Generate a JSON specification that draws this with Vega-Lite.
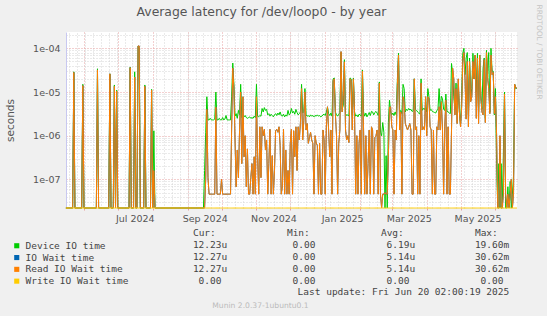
{
"$schema": "https://vega.github.io/schema/vega-lite/v6.json",
"autosize": "none",
"width": 451,
"height": 176,
"padding": {"left": 66, "top": 32, "right": 30, "bottom": 108},
"background": "#f0f0f0",
"config": {
  "view": {"fill": "#ffffff", "stroke": null},
  "font": "DejaVu Sans",
  "axis": {"labelFont": "DejaVu Sans", "titleFont": "DejaVu Sans"}
},
"title": {"text": "Average latency for /dev/loop0 - by year", "font": "DejaVu Sans", "fontSize": 12.4, "fontWeight": "normal", "color": "#555555", "anchor": "middle", "frame": "group", "dx": -30, "dy": 18, "offset": 4},
"datasets": {
"series": [
{"t":"2024-05-16","g":0,"w":0,"r":0,"z":0},
{"t":"2024-05-17","g":0,"w":0,"r":0,"z":0},
{"t":"2024-05-18","g":0,"w":0,"r":0,"z":0},
{"t":"2024-05-19","g":0,"w":0,"r":0,"z":0},
{"t":"2024-05-20","g":0,"w":0,"r":0,"z":0},
{"t":"2024-05-21","g":0,"w":0,"r":0,"z":0},
{"t":"2024-05-22","g":0,"w":0,"r":0,"z":0},
{"t":"2024-05-23","g":2.9e-5,"w":2.8e-5,"r":2.8e-5,"z":0},
{"t":"2024-05-24","g":0,"w":0,"r":0,"z":0},
{"t":"2024-05-25","g":0,"w":0,"r":0,"z":0},
{"t":"2024-05-26","g":0,"w":0,"r":0,"z":0},
{"t":"2024-05-27","g":0,"w":0,"r":0,"z":0},
{"t":"2024-05-28","g":0,"w":0,"r":0,"z":0},
{"t":"2024-05-29","g":0,"w":0,"r":0,"z":0},
{"t":"2024-05-30","g":0,"w":0,"r":0,"z":0},
{"t":"2024-05-31","g":1.5e-5,"w":1.4e-5,"r":1.4e-5,"z":0},
{"t":"2024-06-01","g":0,"w":0,"r":0,"z":0},
{"t":"2024-06-02","g":0,"w":0,"r":0,"z":0},
{"t":"2024-06-03","g":0,"w":0,"r":0,"z":0},
{"t":"2024-06-04","g":0,"w":0,"r":0,"z":0},
{"t":"2024-06-05","g":0,"w":0,"r":0,"z":0},
{"t":"2024-06-06","g":0,"w":0,"r":0,"z":0},
{"t":"2024-06-07","g":0,"w":0,"r":0,"z":0},
{"t":"2024-06-08","g":0,"w":0,"r":0,"z":0},
{"t":"2024-06-09","g":0,"w":0,"r":0,"z":0},
{"t":"2024-06-10","g":0,"w":0,"r":0,"z":0},
{"t":"2024-06-11","g":0,"w":0,"r":0,"z":0},
{"t":"2024-06-12","g":0,"w":0,"r":0,"z":0},
{"t":"2024-06-13","g":3.4e-5,"w":3.2e-5,"r":3.2e-5,"z":0},
{"t":"2024-06-14","g":0,"w":0,"r":0,"z":0},
{"t":"2024-06-15","g":0,"w":0,"r":0,"z":0},
{"t":"2024-06-16","g":0,"w":0,"r":0,"z":0},
{"t":"2024-06-17","g":0,"w":0,"r":0,"z":0},
{"t":"2024-06-18","g":0,"w":0,"r":0,"z":0},
{"t":"2024-06-19","g":0,"w":0,"r":0,"z":0},
{"t":"2024-06-20","g":0,"w":0,"r":0,"z":0},
{"t":"2024-06-21","g":0,"w":0,"r":0,"z":0},
{"t":"2024-06-22","g":0,"w":0,"r":0,"z":0},
{"t":"2024-06-23","g":0,"w":0,"r":0,"z":0},
{"t":"2024-06-24","g":2.6e-5,"w":2.6e-5,"r":2.6e-5,"z":0},
{"t":"2024-06-25","g":0,"w":0,"r":0,"z":0},
{"t":"2024-06-26","g":0,"w":0,"r":0,"z":0},
{"t":"2024-06-27","g":0,"w":0,"r":0,"z":0},
{"t":"2024-06-28","g":1.45e-5,"w":1.35e-5,"r":1.35e-5,"z":0},
{"t":"2024-06-29","g":0,"w":0,"r":0,"z":0},
{"t":"2024-06-30","g":1.1e-5,"w":1.05e-5,"r":1.05e-5,"z":0},
{"t":"2024-07-01","g":0,"w":0,"r":0,"z":0},
{"t":"2024-07-02","g":0,"w":0,"r":0,"z":0},
{"t":"2024-07-03","g":0,"w":0,"r":0,"z":0},
{"t":"2024-07-04","g":0,"w":0,"r":0,"z":0},
{"t":"2024-07-05","g":0,"w":0,"r":0,"z":0},
{"t":"2024-07-06","g":0,"w":0,"r":0,"z":0},
{"t":"2024-07-07","g":0,"w":0,"r":0,"z":0},
{"t":"2024-07-08","g":0,"w":0,"r":0,"z":0},
{"t":"2024-07-09","g":0,"w":0,"r":0,"z":0},
{"t":"2024-07-10","g":0,"w":0,"r":0,"z":0},
{"t":"2024-07-11","g":0,"w":0,"r":0,"z":0},
{"t":"2024-07-12","g":3.7e-5,"w":3.6e-5,"r":3.6e-5,"z":0},
{"t":"2024-07-13","g":0,"w":0,"r":0,"z":0},
{"t":"2024-07-14","g":0,"w":0,"r":0,"z":0},
{"t":"2024-07-15","g":0,"w":0,"r":0,"z":0},
{"t":"2024-07-16","g":2.9e-5,"w":2.2e-5,"r":2.2e-5,"z":0},
{"t":"2024-07-17","g":0,"w":0,"r":0,"z":0},
{"t":"2024-07-18","g":0,"w":0,"r":0,"z":0},
{"t":"2024-07-19","g":1.1e-4,"w":1.13e-4,"r":1.13e-4,"z":0},
{"t":"2024-07-20","g":1.0e-4,"w":1.13e-4,"r":1.13e-4,"z":0},
{"t":"2024-07-21","g":0,"w":0,"r":0,"z":0},
{"t":"2024-07-22","g":0,"w":0,"r":0,"z":0},
{"t":"2024-07-23","g":0,"w":0,"r":0,"z":0},
{"t":"2024-07-24","g":0,"w":0,"r":0,"z":0},
{"t":"2024-07-25","g":1.45e-5,"w":1.35e-5,"r":1.35e-5,"z":0},
{"t":"2024-07-26","g":0,"w":0,"r":0,"z":0},
{"t":"2024-07-27","g":0,"w":0,"r":0,"z":0},
{"t":"2024-07-28","g":0,"w":0,"r":0,"z":0},
{"t":"2024-07-29","g":0,"w":0,"r":0,"z":0},
{"t":"2024-07-30","g":0,"w":0,"r":0,"z":0},
{"t":"2024-07-31","g":1.15e-5,"w":1.1e-5,"r":1.1e-5,"z":0},
{"t":"2024-08-01","g":0,"w":0,"r":0,"z":0},
{"t":"2024-08-02","g":1.3e-6,"w":1.6e-7,"r":1.6e-7,"z":0},
{"t":"2024-08-03","g":0,"w":0,"r":0,"z":0},
{"t":"2024-08-04","g":0,"w":0,"r":0,"z":0},
{"t":"2024-08-05","g":0,"w":0,"r":0,"z":0},
{"t":"2024-08-06","g":0,"w":0,"r":0,"z":0},
{"t":"2024-08-07","g":0,"w":0,"r":0,"z":0},
{"t":"2024-08-08","g":0,"w":0,"r":0,"z":0},
{"t":"2024-08-09","g":0,"w":0,"r":0,"z":0},
{"t":"2024-08-10","g":0,"w":0,"r":0,"z":0},
{"t":"2024-08-11","g":0,"w":0,"r":0,"z":0},
{"t":"2024-08-12","g":0,"w":0,"r":0,"z":0},
{"t":"2024-08-13","g":0,"w":0,"r":0,"z":0},
{"t":"2024-08-14","g":0,"w":0,"r":0,"z":0},
{"t":"2024-08-15","g":0,"w":0,"r":0,"z":0},
{"t":"2024-08-16","g":0,"w":0,"r":0,"z":0},
{"t":"2024-08-17","g":0,"w":0,"r":0,"z":0},
{"t":"2024-08-18","g":0,"w":0,"r":0,"z":0},
{"t":"2024-08-19","g":0,"w":0,"r":0,"z":0},
{"t":"2024-08-20","g":0,"w":0,"r":0,"z":0},
{"t":"2024-08-21","g":0,"w":0,"r":0,"z":0},
{"t":"2024-08-22","g":0,"w":0,"r":0,"z":0},
{"t":"2024-08-23","g":0,"w":0,"r":0,"z":0},
{"t":"2024-08-24","g":0,"w":0,"r":0,"z":0},
{"t":"2024-08-25","g":0,"w":0,"r":0,"z":0},
{"t":"2024-08-26","g":0,"w":0,"r":0,"z":0},
{"t":"2024-08-27","g":0,"w":0,"r":0,"z":0},
{"t":"2024-08-28","g":0,"w":0,"r":0,"z":0},
{"t":"2024-08-29","g":0,"w":0,"r":0,"z":0},
{"t":"2024-08-30","g":0,"w":0,"r":0,"z":0},
{"t":"2024-08-31","g":0,"w":0,"r":0,"z":0},
{"t":"2024-09-01","g":0,"w":0,"r":0,"z":0},
{"t":"2024-09-02","g":0,"w":0,"r":0,"z":0},
{"t":"2024-09-03","g":0,"w":0,"r":0,"z":0},
{"t":"2024-09-04","g":0,"w":0,"r":0,"z":0},
{"t":"2024-09-05","g":0,"w":0,"r":0,"z":0},
{"t":"2024-09-06","g":0,"w":0,"r":0,"z":0},
{"t":"2024-09-07","g":0,"w":0,"r":0,"z":0},
{"t":"2024-09-08","g":0,"w":0,"r":0,"z":0},
{"t":"2024-09-09","g":0,"w":0,"r":0,"z":0},
{"t":"2024-09-10","g":0,"w":0,"r":0,"z":0},
{"t":"2024-09-11","g":0,"w":0,"r":0,"z":0},
{"t":"2024-09-12","g":0,"w":0,"r":0,"z":0},
{"t":"2024-09-13","g":0,"w":0,"r":0,"z":0},
{"t":"2024-09-14","g":0,"w":0,"r":0,"z":0},
{"t":"2024-09-15","g":0,"w":0,"r":0,"z":0},
{"t":"2024-09-16","g":1.6e-7,"w":0,"r":0,"z":0},
{"t":"2024-09-17","g":1.2e-6,"w":1e-7,"r":1e-7,"z":0},
{"t":"2024-09-18","g":7.8e-6,"w":4e-6,"r":4e-6,"z":0},
{"t":"2024-09-19","g":2.3e-6,"w":1.1e-7,"r":1.1e-7,"z":0},
{"t":"2024-09-20","g":2.3e-6,"w":4.6e-8,"r":4.6e-8,"z":0},
{"t":"2024-09-21","g":2.5e-6,"w":4.6e-8,"r":4.6e-8,"z":0},
{"t":"2024-09-22","g":2.3e-6,"w":4.6e-8,"r":4.6e-8,"z":0},
{"t":"2024-09-23","g":2.3e-6,"w":4.6e-8,"r":4.6e-8,"z":0},
{"t":"2024-09-24","g":2.3e-6,"w":4.6e-8,"r":4.6e-8,"z":0},
{"t":"2024-09-25","g":2.4e-6,"w":4.6e-8,"r":4.6e-8,"z":0},
{"t":"2024-09-26","g":1e-5,"w":4.5e-6,"r":4.5e-6,"z":0},
{"t":"2024-09-27","g":2.3e-6,"w":4.6e-8,"r":4.6e-8,"z":0},
{"t":"2024-09-28","g":2.3e-6,"w":4.6e-8,"r":4.6e-8,"z":0},
{"t":"2024-09-29","g":2.5e-6,"w":4.6e-8,"r":4.6e-8,"z":0},
{"t":"2024-09-30","g":2.3e-6,"w":4.6e-8,"r":4.6e-8,"z":0},
{"t":"2024-10-01","g":2.3e-6,"w":1e-7,"r":1e-7,"z":0},
{"t":"2024-10-02","g":2.6e-6,"w":4.6e-8,"r":4.6e-8,"z":0},
{"t":"2024-10-03","g":2.3e-6,"w":4.6e-8,"r":4.6e-8,"z":0},
{"t":"2024-10-04","g":2.4e-6,"w":4.6e-8,"r":4.6e-8,"z":0},
{"t":"2024-10-05","g":2.9e-6,"w":4.6e-8,"r":4.6e-8,"z":0},
{"t":"2024-10-06","g":2.3e-6,"w":4.6e-8,"r":4.6e-8,"z":0},
{"t":"2024-10-07","g":2.3e-6,"w":4.6e-8,"r":4.6e-8,"z":0},
{"t":"2024-10-08","g":2.3e-6,"w":4.6e-8,"r":4.6e-8,"z":0},
{"t":"2024-10-09","g":2.3e-6,"w":4.6e-8,"r":4.6e-8,"z":0},
{"t":"2024-10-10","g":8e-6,"w":1.5e-6,"r":1.5e-6,"z":0},
{"t":"2024-10-11","g":4.6e-5,"w":3.5e-5,"r":3.5e-5,"z":0},
{"t":"2024-10-12","g":1.5e-5,"w":1.2e-5,"r":1.2e-5,"z":0},
{"t":"2024-10-13","g":2.8e-6,"w":8e-7,"r":8e-7,"z":0},
{"t":"2024-10-14","g":3.2e-6,"w":6.8e-8,"r":6.8e-8,"z":0},
{"t":"2024-10-15","g":2.5e-6,"w":4.7e-7,"r":4.7e-7,"z":0},
{"t":"2024-10-16","g":3.8e-6,"w":1.1e-7,"r":1.1e-7,"z":0},
{"t":"2024-10-17","g":3e-6,"w":1.3e-6,"r":1.3e-6,"z":0},
{"t":"2024-10-18","g":1.5e-5,"w":1e-5,"r":1e-5,"z":0},
{"t":"2024-10-19","g":2.6e-6,"w":2.3e-7,"r":2.3e-7,"z":0},
{"t":"2024-10-20","g":3e-6,"w":7.8e-6,"r":7.8e-6,"z":0},
{"t":"2024-10-21","g":2.7e-6,"w":3.3e-7,"r":3.3e-7,"z":0},
{"t":"2024-10-22","g":2.9e-6,"w":1e-6,"r":1e-6,"z":0},
{"t":"2024-10-23","g":2.6e-6,"w":6.8e-8,"r":6.8e-8,"z":0},
{"t":"2024-10-24","g":2.5e-6,"w":5e-7,"r":5e-7,"z":0},
{"t":"2024-10-25","g":2.6e-6,"w":4.6e-8,"r":4.6e-8,"z":0},
{"t":"2024-10-26","g":2.7e-6,"w":4.6e-8,"r":4.6e-8,"z":0},
{"t":"2024-10-27","g":2.5e-6,"w":1.1e-7,"r":1.1e-7,"z":0},
{"t":"2024-10-28","g":2.6e-6,"w":2.3e-7,"r":2.3e-7,"z":0},
{"t":"2024-10-29","g":2.5e-6,"w":4.6e-8,"r":4.6e-8,"z":0},
{"t":"2024-10-30","g":2.8e-6,"w":3.3e-7,"r":3.3e-7,"z":0},
{"t":"2024-10-31","g":2.6e-6,"w":4.6e-8,"r":4.6e-8,"z":0},
{"t":"2024-11-01","g":1.5e-5,"w":7.8e-6,"r":7.8e-6,"z":0},
{"t":"2024-11-02","g":2.8e-6,"w":3.3e-7,"r":3.3e-7,"z":0},
{"t":"2024-11-03","g":2.7e-6,"w":4.6e-8,"r":4.6e-8,"z":0},
{"t":"2024-11-04","g":2.9e-6,"w":1.6e-6,"r":1.6e-6,"z":0},
{"t":"2024-11-05","g":2.8e-6,"w":1.1e-7,"r":1.1e-7,"z":0},
{"t":"2024-11-06","g":4.2e-6,"w":1.6e-6,"r":1.6e-6,"z":0},
{"t":"2024-11-07","g":3.5e-6,"w":1e-6,"r":1e-6,"z":0},
{"t":"2024-11-08","g":4.4e-6,"w":1.4e-6,"r":1.4e-6,"z":0},
{"t":"2024-11-09","g":3.8e-6,"w":4.7e-7,"r":4.7e-7,"z":0},
{"t":"2024-11-10","g":4e-6,"w":8e-7,"r":8e-7,"z":0},
{"t":"2024-11-11","g":3e-6,"w":4.6e-8,"r":4.6e-8,"z":0},
{"t":"2024-11-12","g":3.2e-6,"w":2.3e-7,"r":2.3e-7,"z":0},
{"t":"2024-11-13","g":2.8e-6,"w":1.4e-6,"r":1.4e-6,"z":0},
{"t":"2024-11-14","g":3.1e-6,"w":4.6e-8,"r":4.6e-8,"z":0},
{"t":"2024-11-15","g":2.9e-6,"w":3.5e-7,"r":3.5e-7,"z":0},
{"t":"2024-11-16","g":2.7e-6,"w":4.6e-8,"r":4.6e-8,"z":0},
{"t":"2024-11-17","g":3e-6,"w":1.6e-7,"r":1.6e-7,"z":0},
{"t":"2024-11-18","g":3.2e-6,"w":1.3e-6,"r":1.3e-6,"z":0},
{"t":"2024-11-19","g":2.9e-6,"w":1.4e-6,"r":1.4e-6,"z":0},
{"t":"2024-11-20","g":3.3e-6,"w":1.2e-6,"r":1.2e-6,"z":0},
{"t":"2024-11-21","g":3e-6,"w":1.6e-6,"r":1.6e-6,"z":0},
{"t":"2024-11-22","g":3.5e-6,"w":6e-7,"r":6e-7,"z":0},
{"t":"2024-11-23","g":2.9e-6,"w":4.6e-8,"r":4.6e-8,"z":0},
{"t":"2024-11-24","g":2.8e-6,"w":7e-8,"r":7e-8,"z":0},
{"t":"2024-11-25","g":3.1e-6,"w":1.4e-6,"r":1.4e-6,"z":0},
{"t":"2024-11-26","g":2.7e-6,"w":4.6e-8,"r":4.6e-8,"z":0},
{"t":"2024-11-27","g":3e-6,"w":4.7e-7,"r":4.7e-7,"z":0},
{"t":"2024-11-28","g":2.8e-6,"w":4.6e-8,"r":4.6e-8,"z":0},
{"t":"2024-11-29","g":3.8e-6,"w":1.6e-7,"r":1.6e-7,"z":0},
{"t":"2024-11-30","g":3e-6,"w":4.6e-8,"r":4.6e-8,"z":0},
{"t":"2024-12-01","g":3.2e-6,"w":6.7e-7,"r":6.7e-7,"z":0},
{"t":"2024-12-02","g":4.2e-6,"w":1.4e-6,"r":1.4e-6,"z":0},
{"t":"2024-12-03","g":3.3e-6,"w":4.6e-8,"r":4.6e-8,"z":0},
{"t":"2024-12-04","g":3.6e-6,"w":1.3e-6,"r":1.3e-6,"z":0},
{"t":"2024-12-05","g":3.1e-6,"w":3.3e-7,"r":3.3e-7,"z":0},
{"t":"2024-12-06","g":4e-6,"w":1.6e-6,"r":1.6e-6,"z":0},
{"t":"2024-12-07","g":3.4e-6,"w":1.6e-7,"r":1.6e-7,"z":0},
{"t":"2024-12-08","g":3e-6,"w":1.6e-6,"r":1.6e-6,"z":0},
{"t":"2024-12-09","g":3.2e-6,"w":8e-7,"r":8e-7,"z":0},
{"t":"2024-12-10","g":3.5e-6,"w":2e-6,"r":2e-6,"z":0},
{"t":"2024-12-11","g":1.5e-5,"w":1.2e-5,"r":1.2e-5,"z":0},
{"t":"2024-12-12","g":3.3e-6,"w":8e-7,"r":8e-7,"z":0},
{"t":"2024-12-13","g":3.6e-6,"w":2.2e-6,"r":2.2e-6,"z":0},
{"t":"2024-12-14","g":1.2e-5,"w":1e-5,"r":1e-5,"z":0},
{"t":"2024-12-15","g":3e-6,"w":1.35e-6,"r":1.35e-6,"z":0},
{"t":"2024-12-16","g":2.8e-6,"w":1.9e-6,"r":1.9e-6,"z":0},
{"t":"2024-12-17","g":2.9e-6,"w":6.7e-7,"r":6.7e-7,"z":0},
{"t":"2024-12-18","g":2.7e-6,"w":9e-7,"r":9e-7,"z":0},
{"t":"2024-12-19","g":3e-6,"w":1.2e-6,"r":1.2e-6,"z":0},
{"t":"2024-12-20","g":2.8e-6,"w":8e-7,"r":8e-7,"z":0},
{"t":"2024-12-21","g":2.9e-6,"w":6.7e-7,"r":6.7e-7,"z":0},
{"t":"2024-12-22","g":2.7e-6,"w":4.6e-8,"r":4.6e-8,"z":0},
{"t":"2024-12-23","g":2.9e-6,"w":1e-6,"r":1e-6,"z":0},
{"t":"2024-12-24","g":2.8e-6,"w":6.8e-7,"r":6.8e-7,"z":0},
{"t":"2024-12-25","g":3e-6,"w":6e-7,"r":6e-7,"z":0},
{"t":"2024-12-26","g":2.8e-6,"w":4.6e-8,"r":4.6e-8,"z":0},
{"t":"2024-12-27","g":2.9e-6,"w":6.7e-7,"r":6.7e-7,"z":0},
{"t":"2024-12-28","g":2.7e-6,"w":4.6e-8,"r":4.6e-8,"z":0},
{"t":"2024-12-29","g":2.8e-6,"w":4.6e-8,"r":4.6e-8,"z":0},
{"t":"2024-12-30","g":3e-6,"w":1.35e-6,"r":1.35e-6,"z":0},
{"t":"2024-12-31","g":3.1e-6,"w":8e-7,"r":8e-7,"z":0},
{"t":"2025-01-01","g":2.9e-6,"w":4.6e-8,"r":4.6e-8,"z":0},
{"t":"2025-01-02","g":3.5e-6,"w":1.6e-6,"r":1.6e-6,"z":0},
{"t":"2025-01-03","g":4.5e-6,"w":4.6e-6,"r":4.6e-6,"z":0},
{"t":"2025-01-04","g":3.2e-6,"w":1.35e-6,"r":1.35e-6,"z":0},
{"t":"2025-01-05","g":2.9e-6,"w":3.3e-7,"r":3.3e-7,"z":0},
{"t":"2025-01-06","g":3.3e-6,"w":1.35e-6,"r":1.35e-6,"z":0},
{"t":"2025-01-07","g":2.8e-6,"w":4.6e-8,"r":4.6e-8,"z":0},
{"t":"2025-01-08","g":2e-5,"w":1.8e-5,"r":1.8e-5,"z":0},
{"t":"2025-01-09","g":2.1e-5,"w":2e-5,"r":2e-5,"z":0},
{"t":"2025-01-10","g":3.5e-6,"w":3.2e-6,"r":3.2e-6,"z":0},
{"t":"2025-01-11","g":3e-6,"w":1e-6,"r":1e-6,"z":0},
{"t":"2025-01-12","g":2.8e-6,"w":4.6e-8,"r":4.6e-8,"z":0},
{"t":"2025-01-13","g":3.1e-6,"w":6.7e-7,"r":6.7e-7,"z":0},
{"t":"2025-01-14","g":3.4e-6,"w":1.35e-6,"r":1.35e-6,"z":0},
{"t":"2025-01-15","g":8e-5,"w":8.4e-5,"r":8.4e-5,"z":0},
{"t":"2025-01-16","g":4e-6,"w":3.5e-6,"r":3.5e-6,"z":0},
{"t":"2025-01-17","g":5e-6,"w":7.8e-6,"r":7.8e-6,"z":0},
{"t":"2025-01-18","g":5.5e-5,"w":4.9e-5,"r":4.9e-5,"z":0},
{"t":"2025-01-19","g":3.2e-6,"w":1.35e-6,"r":1.35e-6,"z":0},
{"t":"2025-01-20","g":2.9e-6,"w":8e-7,"r":8e-7,"z":0},
{"t":"2025-01-21","g":3e-6,"w":1e-6,"r":1e-6,"z":0},
{"t":"2025-01-22","g":2.8e-6,"w":7e-7,"r":7e-7,"z":0},
{"t":"2025-01-23","g":2.1e-5,"w":2e-5,"r":2e-5,"z":0},
{"t":"2025-01-24","g":2e-5,"w":1.8e-5,"r":1.8e-5,"z":0},
{"t":"2025-01-25","g":3e-6,"w":1.35e-6,"r":1.35e-6,"z":0},
{"t":"2025-01-26","g":2.1e-5,"w":2e-5,"r":2e-5,"z":0},
{"t":"2025-01-27","g":3.5e-6,"w":3.5e-6,"r":3.5e-6,"z":0},
{"t":"2025-01-28","g":2.8e-6,"w":4.6e-8,"r":4.6e-8,"z":0},
{"t":"2025-01-29","g":3e-6,"w":1e-6,"r":1e-6,"z":0},
{"t":"2025-01-30","g":2.7e-6,"w":4.6e-8,"r":4.6e-8,"z":0},
{"t":"2025-01-31","g":3.1e-6,"w":6.7e-7,"r":6.7e-7,"z":0},
{"t":"2025-02-01","g":3e-6,"w":1.35e-6,"r":1.35e-6,"z":0},
{"t":"2025-02-02","g":2.8e-6,"w":4.6e-8,"r":4.6e-8,"z":0},
{"t":"2025-02-03","g":3.2e-5,"w":3e-5,"r":3e-5,"z":0},
{"t":"2025-02-04","g":3.5e-6,"w":1.35e-6,"r":1.35e-6,"z":0},
{"t":"2025-02-05","g":2.8e-6,"w":4.6e-8,"r":4.6e-8,"z":0},
{"t":"2025-02-06","g":3.3e-6,"w":1e-6,"r":1e-6,"z":0},
{"t":"2025-02-07","g":2.7e-6,"w":4.6e-8,"r":4.6e-8,"z":0},
{"t":"2025-02-08","g":3e-6,"w":2.3e-7,"r":2.3e-7,"z":0},
{"t":"2025-02-09","g":3.4e-6,"w":1.35e-6,"r":1.35e-6,"z":0},
{"t":"2025-02-10","g":2.9e-6,"w":4.6e-8,"r":4.6e-8,"z":0},
{"t":"2025-02-11","g":3.6e-6,"w":1.6e-6,"r":1.6e-6,"z":0},
{"t":"2025-02-12","g":3.5e-6,"w":1.35e-6,"r":1.35e-6,"z":0},
{"t":"2025-02-13","g":3e-6,"w":4.6e-8,"r":4.6e-8,"z":0},
{"t":"2025-02-14","g":3.4e-6,"w":9e-7,"r":9e-7,"z":0},
{"t":"2025-02-15","g":3.6e-6,"w":1e-6,"r":1e-6,"z":0},
{"t":"2025-02-16","g":3.3e-6,"w":1.35e-6,"r":1.35e-6,"z":0},
{"t":"2025-02-17","g":2.9e-6,"w":4.6e-8,"r":4.6e-8,"z":0},
{"t":"2025-02-18","g":1.7e-5,"w":1.6e-5,"r":1.6e-5,"z":0},
{"t":"2025-02-19","g":1.2e-6,"w":4.6e-8,"r":4.6e-8,"z":0},
{"t":"2025-02-20","g":1e-6,"w":0,"r":0,"z":0},
{"t":"2025-02-21","g":2e-6,"w":4.6e-8,"r":4.6e-8,"z":0},
{"t":"2025-02-22","g":1.2e-6,"w":4.6e-8,"r":4.6e-8,"z":0},
{"t":"2025-02-23","g":0,"w":5e-8,"r":5e-8,"z":0},
{"t":"2025-02-24","g":3.5e-7,"w":4.6e-8,"r":4.6e-8,"z":0},
{"t":"2025-02-25","g":0,"w":4.6e-8,"r":4.6e-8,"z":0},
{"t":"2025-02-26","g":2e-6,"w":3.3e-7,"r":3.3e-7,"z":0},
{"t":"2025-02-27","g":6.5e-6,"w":4.5e-6,"r":4.5e-6,"z":0},
{"t":"2025-02-28","g":3.5e-6,"w":4.6e-6,"r":4.6e-6,"z":0},
{"t":"2025-03-01","g":3e-6,"w":1.6e-6,"r":1.6e-6,"z":0},
{"t":"2025-03-02","g":3.3e-6,"w":1.35e-6,"r":1.35e-6,"z":0},
{"t":"2025-03-03","g":2.9e-6,"w":4.6e-8,"r":4.6e-8,"z":0},
{"t":"2025-03-04","g":3.5e-6,"w":1.35e-6,"r":1.35e-6,"z":0},
{"t":"2025-03-05","g":3e-6,"w":8e-7,"r":8e-7,"z":0},
{"t":"2025-03-06","g":2e-5,"w":1.5e-5,"r":1.5e-5,"z":0},
{"t":"2025-03-07","g":7.7e-5,"w":7e-5,"r":7e-5,"z":0},
{"t":"2025-03-08","g":3.4e-6,"w":1.35e-6,"r":1.35e-6,"z":0},
{"t":"2025-03-09","g":3.8e-6,"w":3.5e-6,"r":3.5e-6,"z":0},
{"t":"2025-03-10","g":3.2e-6,"w":4.6e-8,"r":4.6e-8,"z":0},
{"t":"2025-03-11","g":1.5e-5,"w":7.8e-6,"r":7.8e-6,"z":0},
{"t":"2025-03-12","g":1.2e-5,"w":6e-6,"r":6e-6,"z":0},
{"t":"2025-03-13","g":3.5e-6,"w":1.9e-6,"r":1.9e-6,"z":0},
{"t":"2025-03-14","g":4e-6,"w":1.6e-6,"r":1.6e-6,"z":0},
{"t":"2025-03-15","g":3.8e-6,"w":1.35e-6,"r":1.35e-6,"z":0},
{"t":"2025-03-16","g":4.2e-6,"w":1.6e-6,"r":1.6e-6,"z":0},
{"t":"2025-03-17","g":3.9e-6,"w":1.9e-6,"r":1.9e-6,"z":0},
{"t":"2025-03-18","g":4e-6,"w":1.35e-6,"r":1.35e-6,"z":0},
{"t":"2025-03-19","g":3.6e-6,"w":4.6e-8,"r":4.6e-8,"z":0},
{"t":"2025-03-20","g":3.7e-6,"w":4.6e-8,"r":4.6e-8,"z":0},
{"t":"2025-03-21","g":2e-5,"w":2e-5,"r":2e-5,"z":0},
{"t":"2025-03-22","g":4e-6,"w":1.35e-6,"r":1.35e-6,"z":0},
{"t":"2025-03-23","g":3.8e-6,"w":1.6e-6,"r":1.6e-6,"z":0},
{"t":"2025-03-24","g":3.5e-6,"w":4.6e-8,"r":4.6e-8,"z":0},
{"t":"2025-03-25","g":3.3e-6,"w":1e-6,"r":1e-6,"z":0},
{"t":"2025-03-26","g":3.1e-6,"w":4.6e-8,"r":4.6e-8,"z":0},
{"t":"2025-03-27","g":2e-5,"w":1.6e-5,"r":1.6e-5,"z":0},
{"t":"2025-03-28","g":3.8e-6,"w":1.35e-6,"r":1.35e-6,"z":0},
{"t":"2025-03-29","g":4.2e-6,"w":1.6e-6,"r":1.6e-6,"z":0},
{"t":"2025-03-30","g":4e-6,"w":1.35e-6,"r":1.35e-6,"z":0},
{"t":"2025-03-31","g":4.5e-6,"w":7.8e-6,"r":7.8e-6,"z":0},
{"t":"2025-04-01","g":3.5e-6,"w":1e-6,"r":1e-6,"z":0},
{"t":"2025-04-02","g":1.2e-5,"w":7.8e-6,"r":7.8e-6,"z":0},
{"t":"2025-04-03","g":7.8e-6,"w":7e-6,"r":7e-6,"z":0},
{"t":"2025-04-04","g":3.8e-6,"w":1.6e-6,"r":1.6e-6,"z":0},
{"t":"2025-04-05","g":4e-6,"w":1.35e-6,"r":1.35e-6,"z":0},
{"t":"2025-04-06","g":3.6e-6,"w":4.6e-8,"r":4.6e-8,"z":0},
{"t":"2025-04-07","g":3.5e-6,"w":1.35e-6,"r":1.35e-6,"z":0},
{"t":"2025-04-08","g":3.4e-6,"w":4.6e-8,"r":4.6e-8,"z":0},
{"t":"2025-04-09","g":3.3e-6,"w":4.6e-8,"r":4.6e-8,"z":0},
{"t":"2025-04-10","g":3.8e-6,"w":1.6e-6,"r":1.6e-6,"z":0},
{"t":"2025-04-11","g":4e-6,"w":1.35e-6,"r":1.35e-6,"z":0},
{"t":"2025-04-12","g":1.2e-5,"w":4.6e-6,"r":4.6e-6,"z":0},
{"t":"2025-04-13","g":3.8e-6,"w":1.35e-6,"r":1.35e-6,"z":0},
{"t":"2025-04-14","g":8e-6,"w":6e-6,"r":6e-6,"z":0},
{"t":"2025-04-15","g":7e-6,"w":1.35e-6,"r":1.35e-6,"z":0},
{"t":"2025-04-16","g":4e-6,"w":4.6e-8,"r":4.6e-8,"z":0},
{"t":"2025-04-17","g":3.8e-6,"w":1.6e-6,"r":1.6e-6,"z":0},
{"t":"2025-04-18","g":9e-6,"w":6.5e-6,"r":6.5e-6,"z":0},
{"t":"2025-04-19","g":3.6e-6,"w":4.6e-8,"r":4.6e-8,"z":0},
{"t":"2025-04-20","g":3.5e-6,"w":1.6e-6,"r":1.6e-6,"z":0},
{"t":"2025-04-21","g":3.3e-6,"w":4.6e-8,"r":4.6e-8,"z":0},
{"t":"2025-04-22","g":3.2e-6,"w":4.6e-8,"r":4.6e-8,"z":0},
{"t":"2025-04-23","g":4.5e-5,"w":1.35e-6,"r":1.35e-6,"z":0},
{"t":"2025-04-24","g":2.7e-5,"w":3.5e-5,"r":3.5e-5,"z":0},
{"t":"2025-04-25","g":7.8e-6,"w":2e-5,"r":2e-5,"z":0},
{"t":"2025-04-26","g":4e-6,"w":3e-6,"r":3e-6,"z":0},
{"t":"2025-04-27","g":1.6e-5,"w":1.2e-5,"r":1.2e-5,"z":0},
{"t":"2025-04-28","g":3e-6,"w":1.9e-6,"r":1.9e-6,"z":0},
{"t":"2025-04-29","g":1.5e-5,"w":2e-5,"r":2e-5,"z":0},
{"t":"2025-04-30","g":3.5e-6,"w":3.5e-6,"r":3.5e-6,"z":0},
{"t":"2025-05-01","g":1.8e-6,"w":1.6e-6,"r":1.6e-6,"z":0},
{"t":"2025-05-02","g":7.8e-6,"w":4.6e-6,"r":4.6e-6,"z":0},
{"t":"2025-05-03","g":7.7e-5,"w":5e-5,"r":5e-5,"z":0},
{"t":"2025-05-04","g":1e-4,"w":8e-5,"r":8e-5,"z":0},
{"t":"2025-05-05","g":2.5e-5,"w":2e-5,"r":2e-5,"z":0},
{"t":"2025-05-06","g":6e-5,"w":2.4e-6,"r":2.4e-6,"z":0},
{"t":"2025-05-07","g":8e-5,"w":5e-5,"r":5e-5,"z":0},
{"t":"2025-05-08","g":3e-6,"w":1.6e-6,"r":1.6e-6,"z":0},
{"t":"2025-05-09","g":6e-5,"w":5e-5,"r":5e-5,"z":0},
{"t":"2025-05-10","g":8e-6,"w":6e-6,"r":6e-6,"z":0},
{"t":"2025-05-11","g":1.2e-5,"w":7.8e-6,"r":7.8e-6,"z":0},
{"t":"2025-05-12","g":7.7e-5,"w":5e-5,"r":5e-5,"z":0},
{"t":"2025-05-13","g":2e-5,"w":2e-5,"r":2e-5,"z":0},
{"t":"2025-05-14","g":7e-5,"w":7e-5,"r":7e-5,"z":0},
{"t":"2025-05-15","g":1e-5,"w":2.5e-6,"r":2.5e-6,"z":0},
{"t":"2025-05-16","g":7.7e-5,"w":6e-5,"r":6e-5,"z":0},
{"t":"2025-05-17","g":3.5e-6,"w":1.9e-6,"r":1.9e-6,"z":0},
{"t":"2025-05-18","g":7e-5,"w":7e-5,"r":7e-5,"z":0},
{"t":"2025-05-19","g":8e-6,"w":7.8e-6,"r":7.8e-6,"z":0},
{"t":"2025-05-20","g":4e-6,"w":3.5e-6,"r":3.5e-6,"z":0},
{"t":"2025-05-21","g":3.5e-5,"w":3e-6,"r":3e-6,"z":0},
{"t":"2025-05-22","g":6e-5,"w":5.5e-5,"r":5.5e-5,"z":0},
{"t":"2025-05-23","g":2.5e-6,"w":2e-6,"r":2e-6,"z":0},
{"t":"2025-05-24","g":9e-5,"w":8e-5,"r":8e-5,"z":0},
{"t":"2025-05-25","g":2.5e-5,"w":2.1e-5,"r":2.1e-5,"z":0},
{"t":"2025-05-26","g":8e-5,"w":1.2e-5,"r":1.2e-5,"z":0},
{"t":"2025-05-27","g":3.5e-6,"w":3.2e-6,"r":3.2e-6,"z":0},
{"t":"2025-05-28","g":1e-4,"w":7e-5,"r":7e-5,"z":0},
{"t":"2025-05-29","g":3e-5,"w":2.5e-5,"r":2.5e-5,"z":0},
{"t":"2025-05-30","g":3e-5,"w":2.8e-5,"r":2.8e-5,"z":0},
{"t":"2025-05-31","g":3e-6,"w":3.2e-6,"r":3.2e-6,"z":0},
{"t":"2025-06-01","g":1.2e-5,"w":7.8e-6,"r":7.8e-6,"z":0},
{"t":"2025-06-02","g":2.3e-7,"w":1e-6,"r":1e-6,"z":0},
{"t":"2025-06-03","g":0,"w":0,"r":0,"z":0},
{"t":"2025-06-04","g":2.3e-7,"w":0,"r":0,"z":0},
{"t":"2025-06-05","g":0,"w":1e-6,"r":1e-6,"z":0},
{"t":"2025-06-06","g":2.3e-7,"w":0,"r":0,"z":0},
{"t":"2025-06-07","g":0,"w":0,"r":0,"z":0},
{"t":"2025-06-08","g":4e-7,"w":4.6e-8,"r":4.6e-8,"z":0},
{"t":"2025-06-09","g":1e-5,"w":9e-6,"r":9e-6,"z":0},
{"t":"2025-06-10","g":0,"w":4.6e-8,"r":4.6e-8,"z":0},
{"t":"2025-06-11","g":0,"w":0,"r":0,"z":0},
{"t":"2025-06-12","g":6.8e-8,"w":4.6e-8,"r":4.6e-8,"z":0},
{"t":"2025-06-13","g":0,"w":0,"r":0,"z":0},
{"t":"2025-06-14","g":9e-8,"w":4.6e-8,"r":4.6e-8,"z":0},
{"t":"2025-06-15","g":0,"w":1e-7,"r":1e-7,"z":0},
{"t":"2025-06-16","g":4.6e-8,"w":0,"r":0,"z":0},
{"t":"2025-06-17","g":1.2e-7,"w":4.6e-8,"r":4.6e-8,"z":0},
{"t":"2025-06-18","g":1.5e-5,"w":1.5e-5,"r":1.5e-5,"z":0},
{"t":"2025-06-19","g":1.2e-5,"w":1.25e-5,"r":1.25e-5,"z":0},
{"t":"2025-06-20","g":1.223e-5,"w":1.227e-5,"r":1.227e-5,"z":0}
],
"cells": [
{"row":1,"col":"Cur","num":"12.23","unit":"u"},
{"row":1,"col":"Min","num":"0.00","unit":""},
{"row":1,"col":"Avg","num":"6.19","unit":"u"},
{"row":1,"col":"Max","num":"19.60","unit":"m"},
{"row":2,"col":"Cur","num":"12.27","unit":"u"},
{"row":2,"col":"Min","num":"0.00","unit":""},
{"row":2,"col":"Avg","num":"5.14","unit":"u"},
{"row":2,"col":"Max","num":"30.62","unit":"m"},
{"row":3,"col":"Cur","num":"12.27","unit":"u"},
{"row":3,"col":"Min","num":"0.00","unit":""},
{"row":3,"col":"Avg","num":"5.14","unit":"u"},
{"row":3,"col":"Max","num":"30.62","unit":"m"},
{"row":4,"col":"Cur","num":"0.00","unit":""},
{"row":4,"col":"Min","num":"0.00","unit":""},
{"row":4,"col":"Avg","num":"0.00","unit":""},
{"row":4,"col":"Max","num":"0.00","unit":""}
],
"heads": [
{"row":0,"col":"Cur","head":"Cur:"},
{"row":0,"col":"Min","head":"Min:"},
{"row":0,"col":"Avg","head":"Avg:"},
{"row":0,"col":"Max","head":"Max:"}
],
"foot": [
{"row":5,"col":"Max","text":"Last update: Fri Jun 20 02:00:19 2025"}
],
"munin": [
{"row":6,"col":"Min","text":"Munin 2.0.37-1ubuntu0.1"}
]
},
"layer": [
{
 "data": {"name": "series"},
 "layer": [
  {
   "mark": {"type": "line", "strokeWidth": 1},
   "encoding": {
    "x": {"field": "t", "type": "temporal",
      "scale": {"domain": [{"year": 2024, "month": 5, "date": 16, "hours": 2}, {"year": 2025, "month": 6, "date": 20, "hours": 2}]},
      "axis": {"orient": "bottom", "grid": true, "gridColor": "#e6a0a0", "gridDash": [1, 2], "tickCount": {"interval": "month", "step": 1},
        "labelExpr": "month(datum.value) % 2 == 0 ? timeFormat(datum.value, '%b %Y') : ''",
        "labelOffset": 17, "labelFontSize": 9.5, "labelColor": "#555555", "labelPadding": 3, "labelFlush": false, "labelOverlap": false,
        "ticks": true, "tickSize": 2, "tickColor": "#e6a0a0", "domain": false, "title": null}},
    "y": {"field": "g", "type": "quantitative",
      "scale": {"type": "log", "domain": [2.22e-8, 2.36e-4], "clamp": true, "nice": false},
      "axis": {"orient": "left", "grid": true, "gridColor": "#e6a0a0", "gridDash": [1, 2],
        "values": [1e-7, 1e-6, 1e-5, 1e-4],
        "labelExpr": "'1e-0' + round(-log(datum.value)/LN10)",
        "labelFontSize": 9.5, "labelColor": "#555555", "ticks": false, "labelPadding": 6,
        "domain": true, "domainColor": "#c8c8f0", "domainWidth": 1,
        "title": "seconds", "titleFontSize": 10.5, "titleFontWeight": "normal", "titleColor": "#555555", "titlePadding": 17}},
    "color": {"datum": "Device IO time", "type": "nominal",
      "scale": {"domain": ["Device IO time", "IO Wait time", "Read IO Wait time", "Write IO Wait time"], "range": ["#00cc00", "#0066b3", "#ff8000", "#ffcc00"]},
      "legend": {"orient": "none", "legendX": -54, "legendY": 209, "title": null, "direction": "vertical",
        "symbolType": "square", "symbolSize": 26, "symbolStrokeWidth": 0, "symbolOpacity": 1,
        "labelFont": "DejaVu Sans Mono", "labelFontSize": 9.5, "labelColor": "#444444", "labelOffset": 4,
        "rowPadding": 0.8, "padding": 0,
        "encode": {"symbols": {"update": {"fill": {"scale": "color", "field": "value"}, "strokeWidth": {"value": 0}}}}}}
   }
  },
  {
   "mark": {"type": "line", "strokeWidth": 1},
   "encoding": {
    "x": {"field": "t", "type": "temporal",
      "scale": {"domain": [{"year": 2024, "month": 5, "date": 16, "hours": 2}, {"year": 2025, "month": 6, "date": 20, "hours": 2}]},
      "axis": {"orient": "top", "grid": true, "gridColor": "#d4d4d4", "gridDash": [1, 2], "tickCount": {"interval": "week", "step": 1}, "labels": false, "ticks": false, "domain": false, "title": null}},
    "y": {"field": "w", "type": "quantitative",
      "scale": {"type": "log", "domain": [2.22e-8, 2.36e-4], "clamp": true, "nice": false},
      "axis": {"orient": "right", "grid": true, "gridColor": "#d4d4d4", "gridDash": [1, 2],
        "values": [3e-8, 4e-8, 5e-8, 6e-8, 7e-8, 8e-8, 9e-8, 2e-7, 3e-7, 4e-7, 5e-7, 6e-7, 7e-7, 8e-7, 9e-7, 2e-6, 3e-6, 4e-6, 5e-6, 6e-6, 7e-6, 8e-6, 9e-6, 2e-5, 3e-5, 4e-5, 5e-5, 6e-5, 7e-5, 8e-5, 9e-5, 2e-4],
        "labels": false, "ticks": false, "domain": false,
        "title": "RRDTOOL / TOBI OETIKER", "titleAngle": 90, "titleFontSize": 7.4, "titleFontWeight": "normal", "titleColor": "#c4c4c4",
        "titleAlign": "left", "titleBaseline": "middle", "titleX": 21, "titleY": -28}},
    "color": {"datum": "IO Wait time", "type": "nominal"}
   }
  },
  {
   "mark": {"type": "line", "strokeWidth": 1},
   "encoding": {
    "x": {"field": "t", "type": "temporal",
      "scale": {"domain": [{"year": 2024, "month": 5, "date": 16, "hours": 2}, {"year": 2025, "month": 6, "date": 20, "hours": 2}]},
      "axis": null},
    "y": {"field": "r", "type": "quantitative",
      "scale": {"type": "log", "domain": [2.22e-8, 2.36e-4], "clamp": true, "nice": false},
      "axis": null},
    "color": {"datum": "Read IO Wait time", "type": "nominal"}
   }
  },
  {
   "mark": {"type": "line", "strokeWidth": 1},
   "encoding": {
    "x": {"field": "t", "type": "temporal",
      "scale": {"domain": [{"year": 2024, "month": 5, "date": 16, "hours": 2}, {"year": 2025, "month": 6, "date": 20, "hours": 2}]},
      "axis": null},
    "y": {"field": "z", "type": "quantitative",
      "scale": {"type": "log", "domain": [2.22e-8, 2.36e-4], "clamp": true, "nice": false},
      "axis": null},
    "color": {"datum": "Write IO Wait time", "type": "nominal"}
   }
  }
 ],
 "resolve": {"axis": {"x": "independent", "y": "independent"}}
},
{
 "layer": [
  {
   "data": {"name": "cells"},
   "mark": {"type": "text", "align": "right", "baseline": "middle", "font": "DejaVu Sans Mono", "fontSize": 9.5, "color": "#444444"},
   "encoding": {
    "x": {"field": "col", "type": "ordinal", "scale": {"type": "point", "domain": ["Cur", "Min", "Avg", "Max"], "range": [155.5, 437.5], "padding": 0}, "axis": null},
    "y": {"field": "row", "type": "quantitative", "scale": {"domain": [0, 5], "range": [201.3, 260.3], "nice": false, "zero": false}, "axis": null},
    "text": {"field": "num"}
   }
  },
  {
   "data": {"name": "cells"},
   "mark": {"type": "text", "align": "left", "baseline": "middle", "font": "DejaVu Sans Mono", "fontSize": 9.5, "color": "#444444"},
   "encoding": {
    "x": {"field": "col", "type": "ordinal", "scale": {"type": "point", "domain": ["Cur", "Min", "Avg", "Max"], "range": [155.5, 437.5], "padding": 0}, "axis": null},
    "y": {"field": "row", "type": "quantitative", "scale": {"domain": [0, 5], "range": [201.3, 260.3], "nice": false, "zero": false}, "axis": null},
    "text": {"field": "unit"}
   }
  },
  {
   "data": {"name": "heads"},
   "mark": {"type": "text", "align": "right", "baseline": "middle", "dx": -5.7, "font": "DejaVu Sans Mono", "fontSize": 9.5, "color": "#444444"},
   "encoding": {
    "x": {"field": "col", "type": "ordinal", "scale": {"type": "point", "domain": ["Cur", "Min", "Avg", "Max"], "range": [155.5, 437.5], "padding": 0}, "axis": null},
    "y": {"field": "row", "type": "quantitative", "scale": {"domain": [0, 5], "range": [201.3, 260.3], "nice": false, "zero": false}, "axis": null},
    "text": {"field": "head"}
   }
  },
  {
   "data": {"name": "foot"},
   "mark": {"type": "text", "align": "right", "baseline": "middle", "dx": 5.7, "font": "DejaVu Sans Mono", "fontSize": 9.5, "color": "#444444"},
   "encoding": {
    "x": {"field": "col", "type": "ordinal", "scale": {"type": "point", "domain": ["Cur", "Min", "Avg", "Max"], "range": [155.5, 437.5], "padding": 0}, "axis": null},
    "y": {"field": "row", "type": "quantitative", "scale": {"domain": [0, 5], "range": [201.3, 260.3], "nice": false, "zero": false}, "axis": null},
    "text": {"field": "text"}
   }
  },
  {
   "data": {"name": "munin"},
   "mark": {"type": "text", "align": "center", "baseline": "middle", "dx": -55, "dy": 1.5, "font": "DejaVu Sans", "fontSize": 7.6, "color": "#bbbbbb"},
   "encoding": {
    "x": {"field": "col", "type": "ordinal", "scale": {"type": "point", "domain": ["Cur", "Min", "Avg", "Max"], "range": [155.5, 437.5], "padding": 0}, "axis": null},
    "y": {"field": "row", "type": "quantitative", "scale": {"domain": [0, 5], "range": [201.3, 260.3], "nice": false, "zero": false}, "axis": null},
    "text": {"field": "text"}
   }
  }
 ]
}
],
"resolve": {"scale": {"x": "independent", "y": "independent"}}
}
